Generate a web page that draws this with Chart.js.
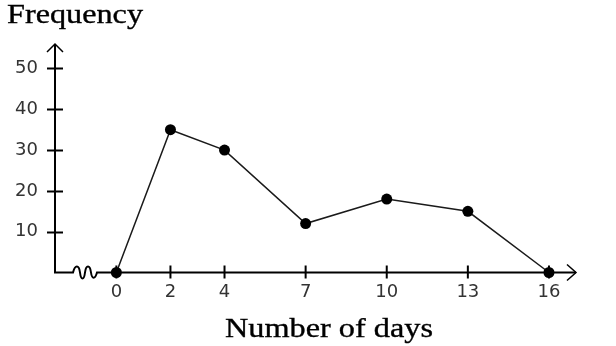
<!DOCTYPE html>
<html>
<head>
<meta charset="utf-8">
<script src="https://cdn.jsdelivr.net/npm/chart.js@4/dist/chart.umd.min.js"></script>
<style>
  html, body { margin: 0; padding: 0; background: #fff; }
  #wrap { width: 616px; height: 346px; position: relative; }
</style>
</head>
<body>
<div id="wrap"><canvas id="c" width="616" height="346"></canvas></div>
<script>
// Frequency polygon: number of days vs. frequency
const days = [0, 2, 4, 7, 10, 13, 16];
const frequency = [0, 35, 30, 12, 18, 15, 0];
const xTickValues = [0, 2, 4, 7, 10, 13, 16];
const yTickValues = [10, 20, 30, 40, 50];
const yTitle = 'Frequency';
const xTitle = 'Number of days';

const INK = '#000';
const LABEL_COLOR = '#333';
const TITLE_FONT = '27px "Liberation Serif"';

// Draws a title string stretched to a given width (wide book-serif look)
function drawWideText(ctx, text, x, y, width, align) {
  ctx.save();
  ctx.font = TITLE_FONT;
  ctx.fillStyle = INK;
  ctx.strokeStyle = INK;
  ctx.lineWidth = 0.35;
  ctx.textBaseline = 'alphabetic';
  const w = ctx.measureText(text).width;
  const sx = width / w;
  const left = align === 'center' ? x - width / 2 : x;
  ctx.translate(left, y);
  ctx.scale(sx, 1);
  ctx.textAlign = 'left';
  ctx.fillText(text, 0, 0);
  ctx.strokeText(text, 0, 0);
  ctx.restore();
}

// Axes with arrows, crossing tick marks, axis break and titles
const axesPlugin = {
  id: 'handAxes',
  beforeDatasetsDraw(chart) {
    const { ctx, chartArea: a, scales: { x, y } } = chart;
    const y0 = y.getPixelForValue(0);
    const xLeft = a.left;
    ctx.save();
    ctx.strokeStyle = INK;
    ctx.lineWidth = 2;
    ctx.lineCap = 'butt';

    // vertical axis
    ctx.beginPath();
    ctx.moveTo(xLeft, a.top);
    ctx.lineTo(xLeft, y0);
    ctx.stroke();
    // up arrow
    ctx.lineWidth = 1.5;
    ctx.beginPath();
    ctx.moveTo(xLeft - 8, a.top + 8);
    ctx.lineTo(xLeft, a.top);
    ctx.lineTo(xLeft + 8, a.top + 8);
    ctx.stroke();

    // horizontal axis with break squiggle
    ctx.lineWidth = 2;
    const b0 = xLeft + 18;
    ctx.beginPath();
    ctx.moveTo(xLeft - 1, y0);
    ctx.lineTo(b0, y0);
    ctx.bezierCurveTo(b0 + 2, y0 - 8, b0 + 6, y0 - 8, b0 + 7, y0);
    ctx.bezierCurveTo(b0 + 8, y0 + 8, b0 + 11, y0 + 8, b0 + 12, y0);
    ctx.bezierCurveTo(b0 + 13, y0 - 8, b0 + 17, y0 - 8, b0 + 18, y0);
    ctx.bezierCurveTo(b0 + 19, y0 + 7, b0 + 22, y0 + 7, b0 + 24, y0);
    ctx.lineTo(a.right, y0);
    ctx.stroke();
    // right arrow
    ctx.lineWidth = 1.5;
    ctx.beginPath();
    ctx.moveTo(a.right - 9, y0 - 8);
    ctx.lineTo(a.right, y0);
    ctx.lineTo(a.right - 9, y0 + 8);
    ctx.stroke();

    // tick marks crossing the axes
    ctx.lineWidth = 2;
    yTickValues.forEach(v => {
      const py = Math.round(y.getPixelForValue(v)) + 0.5;
      ctx.beginPath();
      ctx.moveTo(xLeft - 8, py);
      ctx.lineTo(xLeft + 8, py);
      ctx.stroke();
    });
    xTickValues.forEach(v => {
      const px = x.getPixelForValue(v);
      ctx.beginPath();
      ctx.moveTo(px, y0 - 7);
      ctx.lineTo(px, y0 + 6);
      ctx.stroke();
    });
    ctx.restore();

    // titles
    drawWideText(ctx, yTitle, 7, 23, 136, 'left');
    drawWideText(ctx, xTitle, 329, 337, 208, 'center');
  }
};

new Chart(document.getElementById('c'), {
  type: 'line',
  data: {
    datasets: [{
      data: days.map((d, i) => ({ x: d, y: frequency[i] })),
      borderColor: '#1a1a1a',
      borderWidth: 1.5,
      pointRadius: 5.5,
      pointHoverRadius: 5.5,
      pointBackgroundColor: '#000',
      pointBorderColor: '#000',
      pointBorderWidth: 0,
      tension: 0,
      fill: false,
      clip: false
    }]
  },
  options: {
    responsive: false,
    animation: false,
    events: [],
    layout: { padding: { top: 44, right: 40, left: 0, bottom: 0 } },
    plugins: { legend: { display: false }, tooltip: { enabled: false }, title: { display: false } },
    scales: {
      x: {
        type: 'linear',
        min: -2.27,
        max: 17,
        afterBuildTicks: s => { s.ticks = xTickValues.map(v => ({ value: v })); },
        afterFit: s => { s.height = 346 - 44 - 228.5; },
        grid: { display: false, drawTicks: false },
        border: { display: false },
        ticks: {
          autoSkip: false,
          maxRotation: 0,
          padding: 9,
          font: { family: 'DejaVu Sans', size: 18 },
          color: LABEL_COLOR,
          callback: v => String(v)
        }
      },
      y: {
        type: 'linear',
        min: 0,
        max: 56,
        afterBuildTicks: s => { s.ticks = yTickValues.map(v => ({ value: v })); },
        afterFit: s => { s.width = 55; },
        grid: { display: false, drawTicks: false },
        border: { display: false },
        ticks: {
          padding: 17,
          font: { family: 'DejaVu Sans', size: 18 },
          color: LABEL_COLOR,
          callback: v => String(v)
        }
      }
    }
  },
  plugins: [axesPlugin]
});
</script>
</body>
</html>
